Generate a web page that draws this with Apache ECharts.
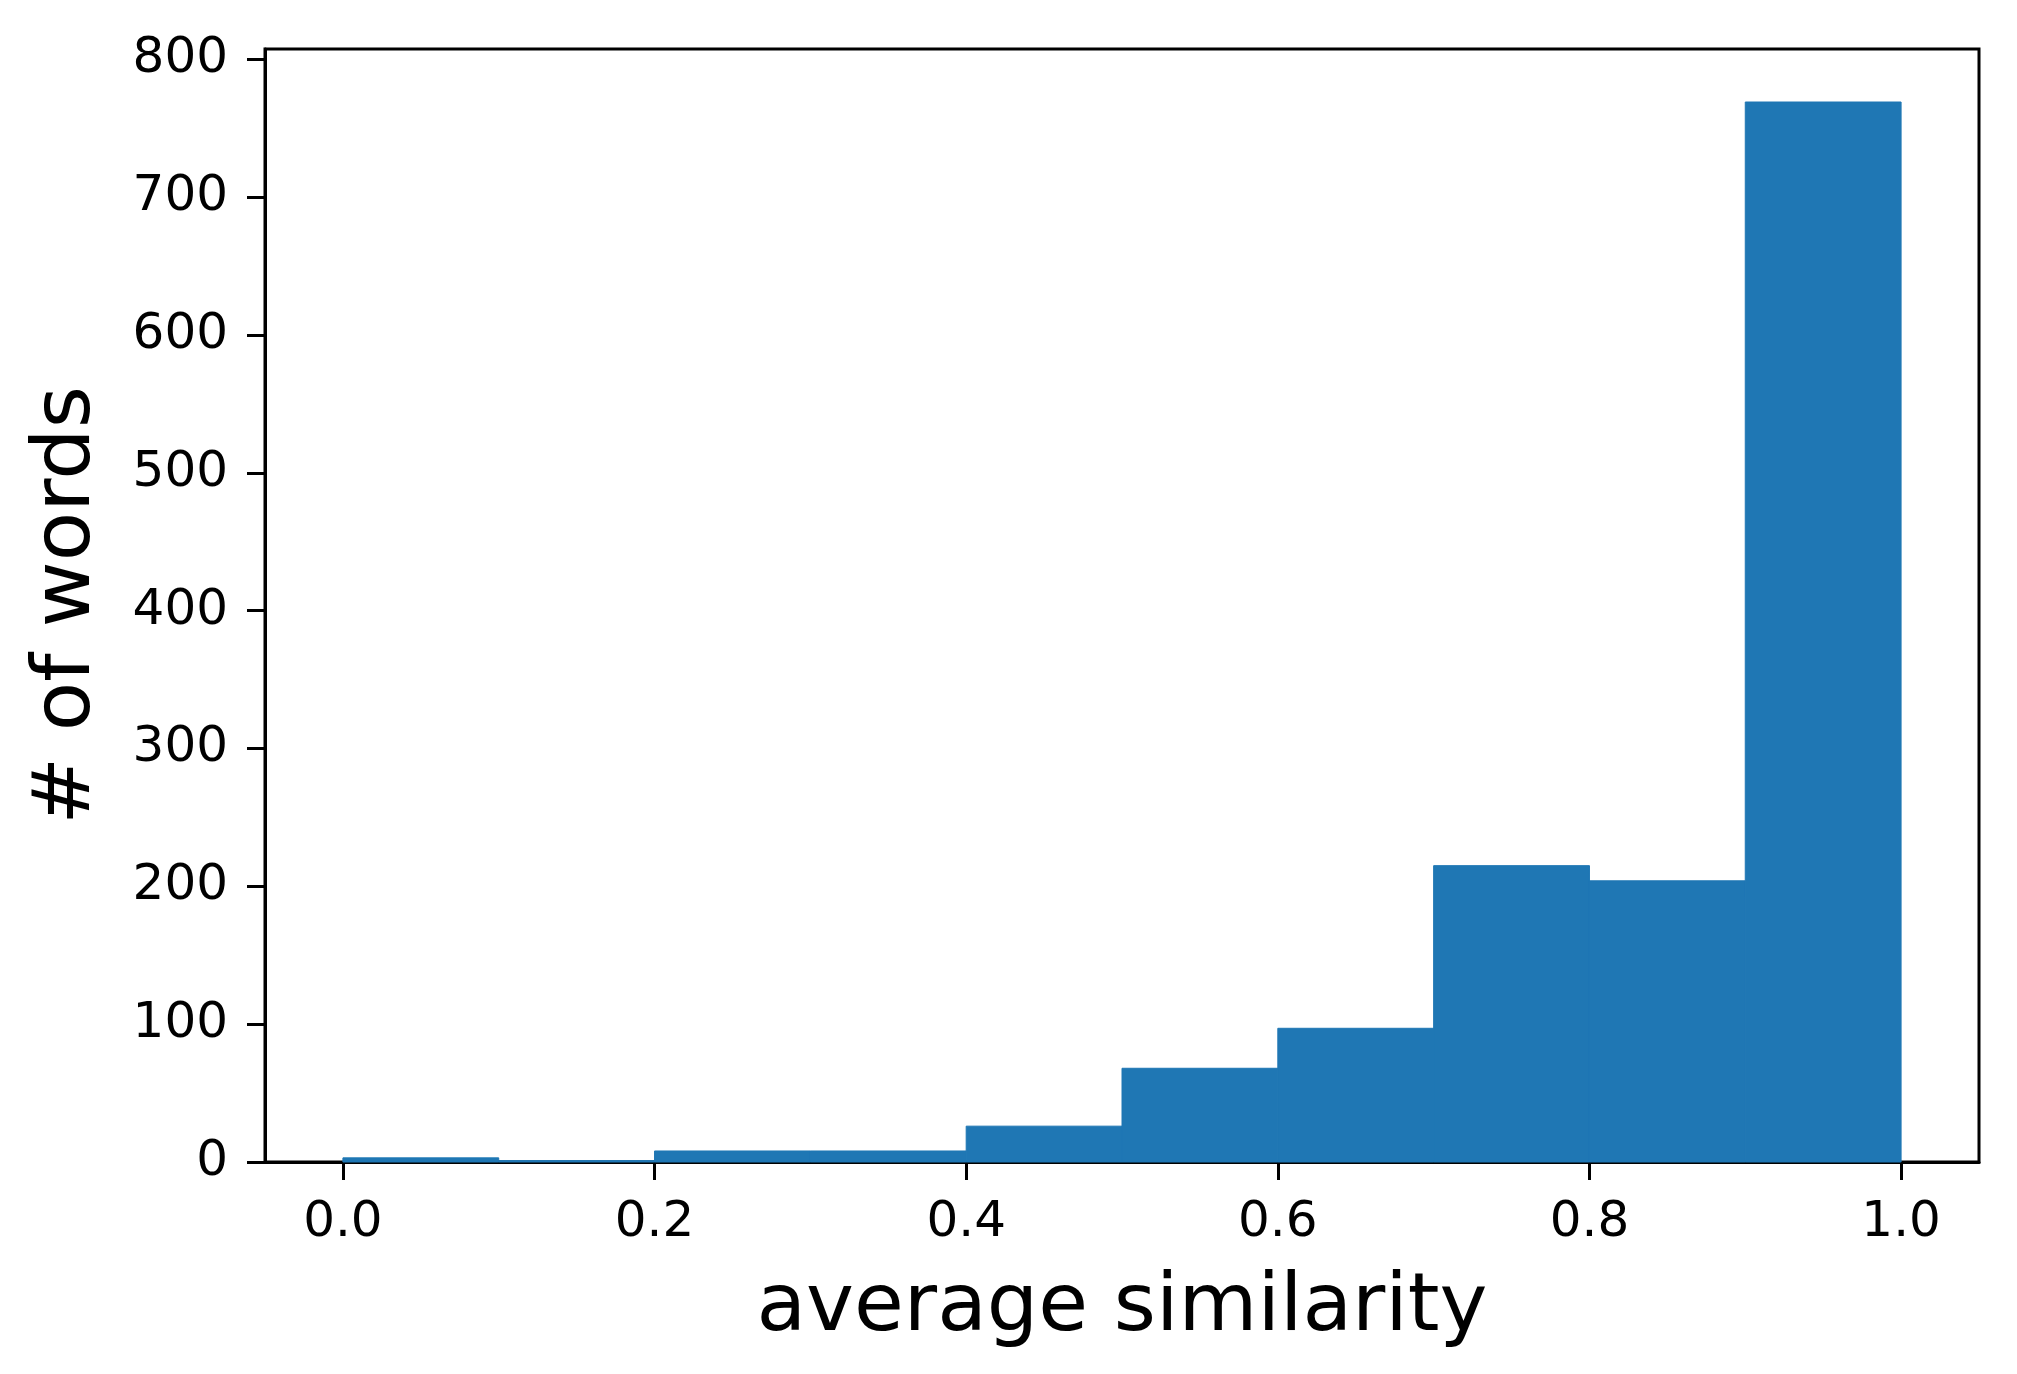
<!DOCTYPE html>
<html>
<head>
<meta charset="utf-8">
<script src="https://cdn.jsdelivr.net/npm/echarts@6/dist/echarts.min.js"></script>
<style>
html,body{margin:0;padding:0;background:#fff;}
#chart{width:2017px;height:1374px;}
</style>
</head>
<body>
<div id="chart"></div>
<script>
// Histogram data
const binStarts = [0.0, 0.1, 0.2, 0.3, 0.4, 0.5, 0.6, 0.7, 0.8, 0.9];
const binEnds   = [0.1, 0.2, 0.3, 0.4, 0.5, 0.6, 0.7, 0.8, 0.9, 1.0];
const counts    = [3, 1, 8, 8, 26, 68, 97, 215, 204, 769];
const xTicks = [0.0, 0.2, 0.4, 0.6, 0.8, 1.0];
const yTicks = [0, 100, 200, 300, 400, 500, 600, 700, 800];
const xTitle = 'average similarity';
const yTitle = '# of words';

const histData = binStarts.map((s, i) => [s, binEnds[i], counts[i]]);
const yMax = Math.max(...counts) * 1.05;

const chart = echarts.init(document.getElementById('chart'), null, {renderer: 'canvas'});
const FONT = 'DejaVu Sans';
chart.setOption({
  animation: false,
  backgroundColor: '#ffffff',
  grid: {
    left: 265, right: 38, top: 49, bottom: 212,
    show: true, borderColor: '#000', borderWidth: 3,
    outerBoundsMode: 'none', containLabel: false
  },
  xAxis: {
    type: 'value', min: -0.05, max: 1.05,
    name: xTitle, nameLocation: 'middle', nameGap: 106,
    nameTextStyle: {fontFamily: FONT, fontSize: 81, color: '#000'},
    axisLine: {show: true, onZero: false, lineStyle: {color: '#000', width: 3}},
    axisTick: {show: true, inside: false, length: 18, lineStyle: {color: '#000', width: 3}, customValues: xTicks},
    axisLabel: {show: true, margin: 36, fontFamily: FONT, fontSize: 50, color: '#000',
      customValues: xTicks, formatter: v => Number(v).toFixed(1)},
    splitLine: {show: false}
  },
  yAxis: {
    type: 'value', min: 0, max: yMax,
    name: yTitle, nameLocation: 'middle', nameGap: 157, nameRotate: 90,
    nameTextStyle: {fontFamily: FONT, fontSize: 81, color: '#000'},
    axisLine: {show: true, onZero: false, lineStyle: {color: '#000', width: 3}},
    axisTick: {show: true, inside: false, length: 18, lineStyle: {color: '#000', width: 3}, customValues: yTicks},
    axisLabel: {show: true, margin: 37, fontFamily: FONT, fontSize: 50, color: '#000',
      customValues: yTicks, formatter: v => String(v)},
    splitLine: {show: false}
  },
  series: [{
    type: 'custom',
    data: histData,
    encode: {x: [0, 1], y: 2},
    renderItem: function (params, api) {
      const p0 = api.coord([api.value(0), 0]);
      const p1 = api.coord([api.value(1), api.value(2)]);
      return {
        type: 'rect',
        shape: {x: p0[0], y: p1[1], width: p1[0] - p0[0], height: p0[1] - p1[1]},
        style: {fill: '#1f77b4', stroke: '#1f77b4', lineWidth: 1}
      };
    }
  }]
});
</script>
</body>
</html>
